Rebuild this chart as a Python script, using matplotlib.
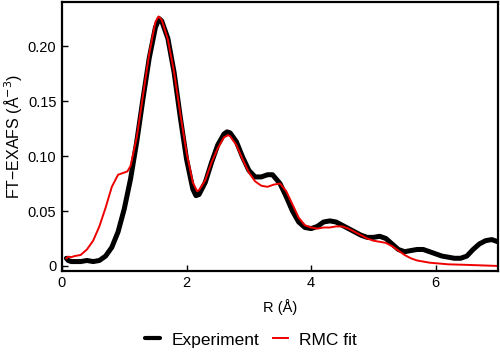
import matplotlib
matplotlib.use("Agg")
import matplotlib.pyplot as plt

plt.rcParams['font.family'] = ['Liberation Sans', 'DejaVu Sans']

r_exp = [0.07, 0.10, 0.15, 0.2, 0.3, 0.4, 0.5, 0.6, 0.7, 0.8, 0.9, 1.0, 1.1, 1.2, 1.3, 1.4, 1.5, 1.56,
         1.6, 1.7, 1.8, 1.9, 2.0, 2.1, 2.15, 2.2, 2.3, 2.4, 2.5, 2.6, 2.65, 2.7, 2.8, 2.9, 3.0, 3.1,
         3.2, 3.3, 3.38, 3.5, 3.6, 3.7, 3.8, 3.9, 4.0, 4.1, 4.2, 4.3, 4.4, 4.5, 4.6, 4.7, 4.8, 4.9,
         5.0, 5.1, 5.2, 5.3, 5.4, 5.5, 5.6, 5.7, 5.8, 5.9, 6.0, 6.1, 6.2, 6.3, 6.4, 6.5, 6.6, 6.7,
         6.8, 6.9, 7.0]
v_exp = [0.007, 0.005, 0.004, 0.004, 0.004, 0.005, 0.004, 0.005, 0.009, 0.017, 0.031, 0.052, 0.079,
         0.113, 0.152, 0.189, 0.217, 0.225, 0.223, 0.207, 0.176, 0.135, 0.097, 0.070, 0.064, 0.065,
         0.076, 0.094, 0.110, 0.120, 0.122, 0.121, 0.113, 0.099, 0.087, 0.081, 0.081, 0.083, 0.083,
         0.075, 0.063, 0.050, 0.040, 0.035, 0.034, 0.036, 0.040, 0.041, 0.040, 0.037, 0.034, 0.031,
         0.028, 0.026, 0.026, 0.027, 0.025, 0.020, 0.015, 0.013, 0.014, 0.015, 0.015, 0.013, 0.011,
         0.009, 0.008, 0.007, 0.007, 0.009, 0.015, 0.020, 0.023, 0.024, 0.022]

r_fit = [0.07, 0.1, 0.15, 0.2, 0.3, 0.4, 0.5, 0.6, 0.7, 0.8, 0.9, 1.0, 1.05, 1.1, 1.2, 1.3, 1.4, 1.5,
         1.55, 1.6, 1.7, 1.8, 1.9, 2.0, 2.1, 2.17, 2.2, 2.3, 2.4, 2.5, 2.6, 2.67, 2.7, 2.8, 2.9, 3.0,
         3.1, 3.2, 3.3, 3.4, 3.5, 3.6, 3.7, 3.8, 3.9, 4.0, 4.1, 4.2, 4.3, 4.4, 4.5, 4.6, 4.7, 4.8,
         4.9, 5.0, 5.1, 5.2, 5.3, 5.4, 5.5, 5.6, 5.7, 5.8, 5.9, 6.0, 6.2, 6.5, 7.0]
v_fit = [0.007, 0.0085, 0.008, 0.009, 0.010, 0.015, 0.023, 0.036, 0.053, 0.072, 0.083, 0.085, 0.086,
         0.091, 0.117, 0.155, 0.193, 0.222, 0.227, 0.224, 0.206, 0.176, 0.138, 0.103, 0.076, 0.068,
         0.069, 0.078, 0.094, 0.107, 0.117, 0.119, 0.118, 0.110, 0.097, 0.085, 0.077, 0.073, 0.072,
         0.074, 0.075, 0.068, 0.056, 0.044, 0.037, 0.035, 0.034, 0.035, 0.035, 0.036, 0.036, 0.034,
         0.031, 0.028, 0.025, 0.023, 0.022, 0.021, 0.018, 0.014, 0.010, 0.007, 0.005, 0.004, 0.003,
         0.0025, 0.0015, 0.001, 0.0]

x_ticks = [0, 2, 4, 6]
y_ticks = [0, 0.05, 0.10, 0.15, 0.20]
y_tick_labels = ["0", "0.05", "0.10", "0.15", "0.20"]

fig = plt.figure(figsize=(5.0, 3.56), dpi=100)
ax = fig.add_axes([0.124, 0.239, 0.872, 0.755])

ax.plot(r_exp, v_exp, color='black', lw=3.6, label='Experiment', solid_capstyle='round')
ax.plot(r_fit, v_fit, color='#ee0000', lw=1.4, label='RMC fit')

ax.set_xlim(0, 7)
ax.set_ylim(-0.0045, 0.24)
ax.set_xticks(x_ticks)
ax.set_xticklabels([str(t) for t in x_ticks])
ax.set_yticks(y_ticks)
ax.set_yticklabels(y_tick_labels)
ax.tick_params(direction='in', length=4, width=1, labelsize=10.5, pad=4)
for s in ax.spines.values():
    s.set_linewidth(1.6)

ax.set_xlabel('R (Å)', fontsize=10.5, labelpad=6)
ax.set_ylabel('FT−EXAFS (Å$^{-3}$)', fontsize=11.5, labelpad=3)

leg = fig.legend(loc='center', bbox_to_anchor=(0.502, 0.045), ncol=2, frameon=False,
                 fontsize=12.5, handlelength=0.86, columnspacing=0.8, handletextpad=0.63)
leg.get_lines()[0].set_linewidth(3.0)

fig.savefig('out.png', dpi=100)
